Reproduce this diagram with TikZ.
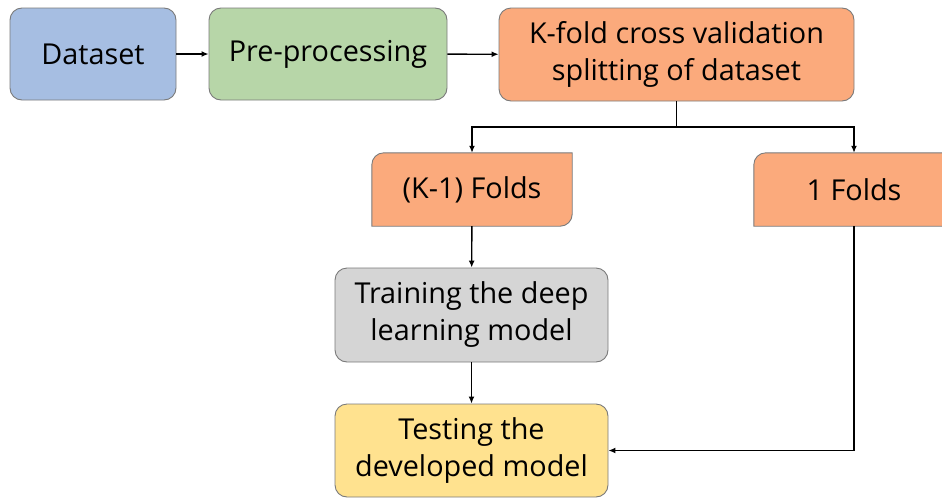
\documentclass[tikz,border=0pt]{standalone}
\usepackage{fontspec}
\setmainfont{Open Sans}
\usetikzlibrary{arrows.meta,backgrounds,calc}
\definecolor{cblue}{HTML}{A6BEE2}
\definecolor{cgreen}{HTML}{B7D6A8}
\definecolor{corange}{HTML}{FBAA7C}
\definecolor{cgray}{HTML}{D5D5D5}
\definecolor{cyellow}{HTML}{FFE28F}
\definecolor{cborder}{HTML}{7A7A7A}
\tikzset{
  box/.style={draw=cborder, line width=0.9pt, rounded corners=12pt, align=center,
    font=\fontsize{28.8}{37}\selectfont, inner sep=0pt},
  txt/.style={align=center, font=\fontsize{28.8}{37}\selectfont, inner sep=0pt},
  foldshape/.style={draw=cborder, line width=0.9pt, fill=corange},
  conn/.style={line width=1.4pt, -{Latex[length=7pt,width=6pt]}},
  plain/.style={line width=1.4pt}
}
\begin{document}
\begin{tikzpicture}[x=1pt,y=-1pt]
\useasboundingbox (0,0) rectangle (942,498);
\clip (0,0) rectangle (942,498);
\node[box, fill=cblue, minimum width=166pt, minimum height=92pt] (ds) at (93,54) {Dataset};
\node[box, fill=cgreen, minimum width=238pt, minimum height=92pt] (pp) at (328,54) {Pre-processing};
\node[box, fill=corange, minimum width=355pt, minimum height=93pt] (kf) at (676.5,54.5) {K-fold cross validation\\splitting of dataset};
\node[txt, minimum width=200pt, minimum height=73pt] (k1) at (472,189.5) {(K-1) Folds};
\node[txt, minimum width=200pt, minimum height=73pt] (f1) at (854,189.5) {1 Folds};
\node[box, fill=cgray, minimum width=273pt, minimum height=94pt] (tr) at (471.5,315) {Training the deep\\learning model};
\node[box, fill=cyellow, minimum width=273pt, minimum height=93pt] (te) at (471.5,450.5) {Testing the\\developed model};
\begin{pgfonlayer}{background}
\foreach \n in {k1,f1}{
  \filldraw[foldshape] (\n.south west) -- ([yshift=-12pt]\n.north west)
    arc[start angle=180,end angle=90,radius=12pt] -- (\n.north east)
    -- ([yshift=12pt]\n.south east) arc[start angle=0,end angle=-90,radius=12pt] -- cycle;
}
\end{pgfonlayer}
\draw[conn] (ds) -- (pp);
\draw[conn] (pp) -- (kf);
\coordinate (split) at (kf.south |- 0,127);
\draw[plain] (kf.south) -- (split);
\draw[conn] (split) -| (k1.north);
\draw[conn] (split) -| (f1.north);
\draw[conn] (k1) -- (tr);
\draw[conn] (tr) -- (te);
\draw[conn] (f1.south) |- (te.east);
\end{tikzpicture}
\end{document}
